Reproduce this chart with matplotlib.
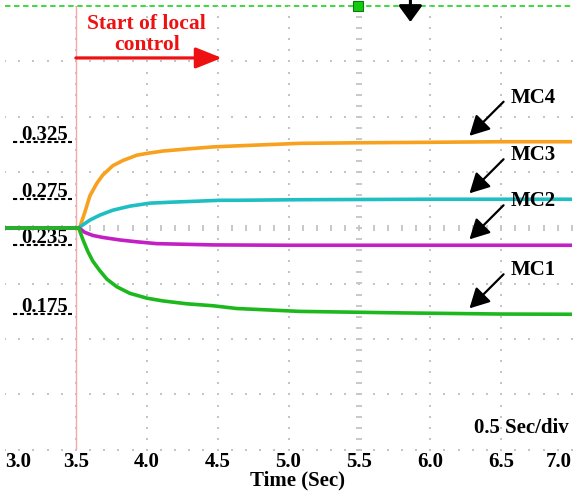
import numpy as np
import matplotlib
matplotlib.use("Agg")
import matplotlib.pyplot as plt

# ---- data: per-unit load share of each microgrid controller ----
t_mc4 = [3.0, 3.52, 3.528, 3.563, 3.599, 3.648, 3.69, 3.761, 3.832, 3.93, 4.008, 4.114, 4.283, 4.467, 4.636, 5.08, 5.5, 6.0, 6.5, 7.0]
mc4 = [0.25, 0.25, 0.2509, 0.2636, 0.2780, 0.2889, 0.2961, 0.3042, 0.3087, 0.3133, 0.3150, 0.3169, 0.3187, 0.3205, 0.3214, 0.3236, 0.3241, 0.3245, 0.325, 0.325]

t_mc3 = [3.0, 3.52, 3.528, 3.599, 3.669, 3.761, 3.881, 4.022, 4.163, 4.354, 4.516, 4.636, 5.08, 6.0, 7.0]
mc3 = [0.25, 0.25, 0.2509, 0.2569, 0.2612, 0.2655, 0.2690, 0.2716, 0.2724, 0.2733, 0.2741, 0.2741, 0.2746, 0.275, 0.275]

t_mc2 = [3.0, 3.52, 3.528, 3.563, 3.62, 3.69, 3.81, 3.93, 4.07, 4.283, 4.467, 5.0, 7.0]
mc2 = [0.25, 0.25, 0.2495, 0.2462, 0.2435, 0.2418, 0.2396, 0.2380, 0.2364, 0.2358, 0.2353, 0.235, 0.235]

t_mc1 = [3.0, 3.52, 3.549, 3.585, 3.62, 3.669, 3.719, 3.789, 3.881, 4.001, 4.114, 4.283, 4.467, 4.636, 5.08, 5.79, 6.5, 7.0]
mc1 = [0.25, 0.25, 0.2401, 0.2294, 0.2211, 0.2129, 0.2055, 0.1989, 0.1932, 0.1890, 0.1866, 0.1841, 0.1824, 0.1800, 0.1775, 0.1762, 0.1752, 0.175]

series_names = ["MC4", "MC3", "MC2", "MC1"]
final_shares = [0.325, 0.275, 0.235, 0.175]
share_labels = ["0.325", "0.275", "0.235", "0.175"]

time_ticks = [3.0, 3.5, 4.0, 4.5, 5.0, 5.5, 6.0, 6.5, 7.0]
time_tick_labels = ["3.0", "3.5", "4.0", "4.5", "5.0", "5.5", "6.0", "6.5", "7.0"]
control_start = 3.5

# ---- styling ----
SERIF = ["Liberation Serif", "DejaVu Serif"]
colors = {"MC4": "#F7A11E", "MC3": "#1DBFC2", "MC2": "#C21FC4", "MC1": "#1DB81D"}
GRID_C = "#c4c4c4"

fig = plt.figure(figsize=(5.73, 4.93), dpi=100)
ax = fig.add_axes([5 / 573, 43 / 493, 567 / 573, 444 / 493])
HALF = 0.193
ybot, ytop = 0.25 - HALF, 0.25 + HALF
ax.set_xlim(3.0, 7.0)
ax.set_ylim(ybot, ytop)
for s in ax.spines.values():
    s.set_visible(False)
ax.set_yticks([])

# oscilloscope graticule
div_y = (ytop - ybot) / 8
xs = np.arange(3.0, 7.0001, 0.1)
for k in range(9):
    yv = ybot + k * div_y
    if k == 8:
        ax.axhline(yv, color="#2fd62f", lw=1.3, ls=(0, (3, 2)), clip_on=False, zorder=1)
    elif k == 4:
        ax.plot(xs, np.full_like(xs, yv), ls="none", marker="|", ms=5, mew=1.3,
                color=GRID_C, zorder=1)
    else:
        ax.plot(xs, np.full_like(xs, yv), ls="none", marker="s", ms=1.6, mew=0,
                color=GRID_C, zorder=1)
ys = np.arange(ybot, ytop + 1e-9, div_y / 5)
for xv in [3.5, 4.0, 4.5, 5.0, 6.0, 6.5]:
    ax.plot(np.full_like(ys, xv), ys, ls="none", marker="s", ms=1.6, mew=0,
            color=GRID_C, zorder=1)
ax.plot(np.full_like(ys, 5.5), ys, ls="none", marker="_", ms=5, mew=1.3,
        color=GRID_C, zorder=1)

# scope markers along the top edge
ax.plot([5.49], [ytop], marker="s", ms=7, color="#12cc12", mec="#0b7a0b",
        mew=0.8, clip_on=False, zorder=5)
ax.annotate("", xy=(5.86, 0.964), xycoords=("data", "axes fraction"),
            xytext=(5.86, 1.015), textcoords=("data", "axes fraction"),
            arrowprops=dict(arrowstyle="-|>,head_length=0.55,head_width=0.4",
                            mutation_scale=18, color="black", lw=2.2,
                            shrinkA=0, shrinkB=0), annotation_clip=False)

# start of local control
ax.axvline(control_start, color="#f6a8a8", lw=1.0, zorder=2)
ax.text(4.0, 0.936, "Start of local\ncontrol", transform=ax.get_xaxis_transform(),
        ha="center", va="center", color="#ee1111", fontsize=15.5,
        fontweight="bold", family=SERIF, linespacing=1.05)
ax.annotate("", xy=(4.53, 0.883), xycoords=("data", "axes fraction"),
            xytext=(control_start, 0.883), textcoords=("data", "axes fraction"),
            arrowprops=dict(arrowstyle="-|>,head_length=0.8,head_width=0.32",
                            mutation_scale=20, color="#ee1111", lw=2.3,
                            shrinkA=0, shrinkB=0))

# traces
for name, t, v in [("MC4", t_mc4, mc4), ("MC3", t_mc3, mc3),
                   ("MC2", t_mc2, mc2), ("MC1", t_mc1, mc1)]:
    ax.plot(t, v, color=colors[name], lw=2.6, solid_joinstyle="round", zorder=3)

# final-share reference marks on the left
for lab, val in zip(share_labels, final_shares):
    ax.plot([3.055, 3.472], [val, val], color="black", lw=1.5,
            ls=(0, (2, 1.3)), zorder=4)
    ax.annotate(lab, xy=(3.28, val), xytext=(0, 2), textcoords="offset pixels",
                ha="center", va="baseline", fontsize=15, fontweight="bold",
                family=SERIF, zorder=2)

# channel labels with arrows
for name, val in zip(series_names, final_shares):
    ax.annotate("", xy=(6.235, val), xytext=(40, 40), textcoords="offset pixels",
                arrowprops=dict(arrowstyle="-|>,head_length=0.6,head_width=0.32",
                                mutation_scale=20, color="black", lw=1.6,
                                shrinkA=0, shrinkB=6), zorder=6)
    ax.annotate(name, xy=(6.235, val), xytext=(70, 44), textcoords="offset pixels",
                ha="center", va="center", fontsize=15, fontweight="bold",
                family=SERIF, zorder=6)

ax.text(0.995, 0.05, "0.5 Sec/div", transform=ax.transAxes, ha="right",
        va="center", fontsize=15, fontweight="bold", family=SERIF)

# time axis
ax.set_xticks(time_ticks, time_tick_labels)
ax.tick_params(axis="x", length=0, pad=1.5)
for lbl in ax.get_xticklabels():
    lbl.set_fontfamily(SERIF)
    lbl.set_fontweight("bold")
    lbl.set_fontsize(15)
ax.get_xticklabels()[0].set_horizontalalignment("left")
ax.get_xticklabels()[-1].set_horizontalalignment("right")
ax.set_xlabel("Time (Sec)", fontsize=15, fontweight="bold", family=SERIF, va="center")
ax.xaxis.set_label_coords(0.515, -0.068)

fig.savefig("out.png", dpi=100, facecolor="white")
